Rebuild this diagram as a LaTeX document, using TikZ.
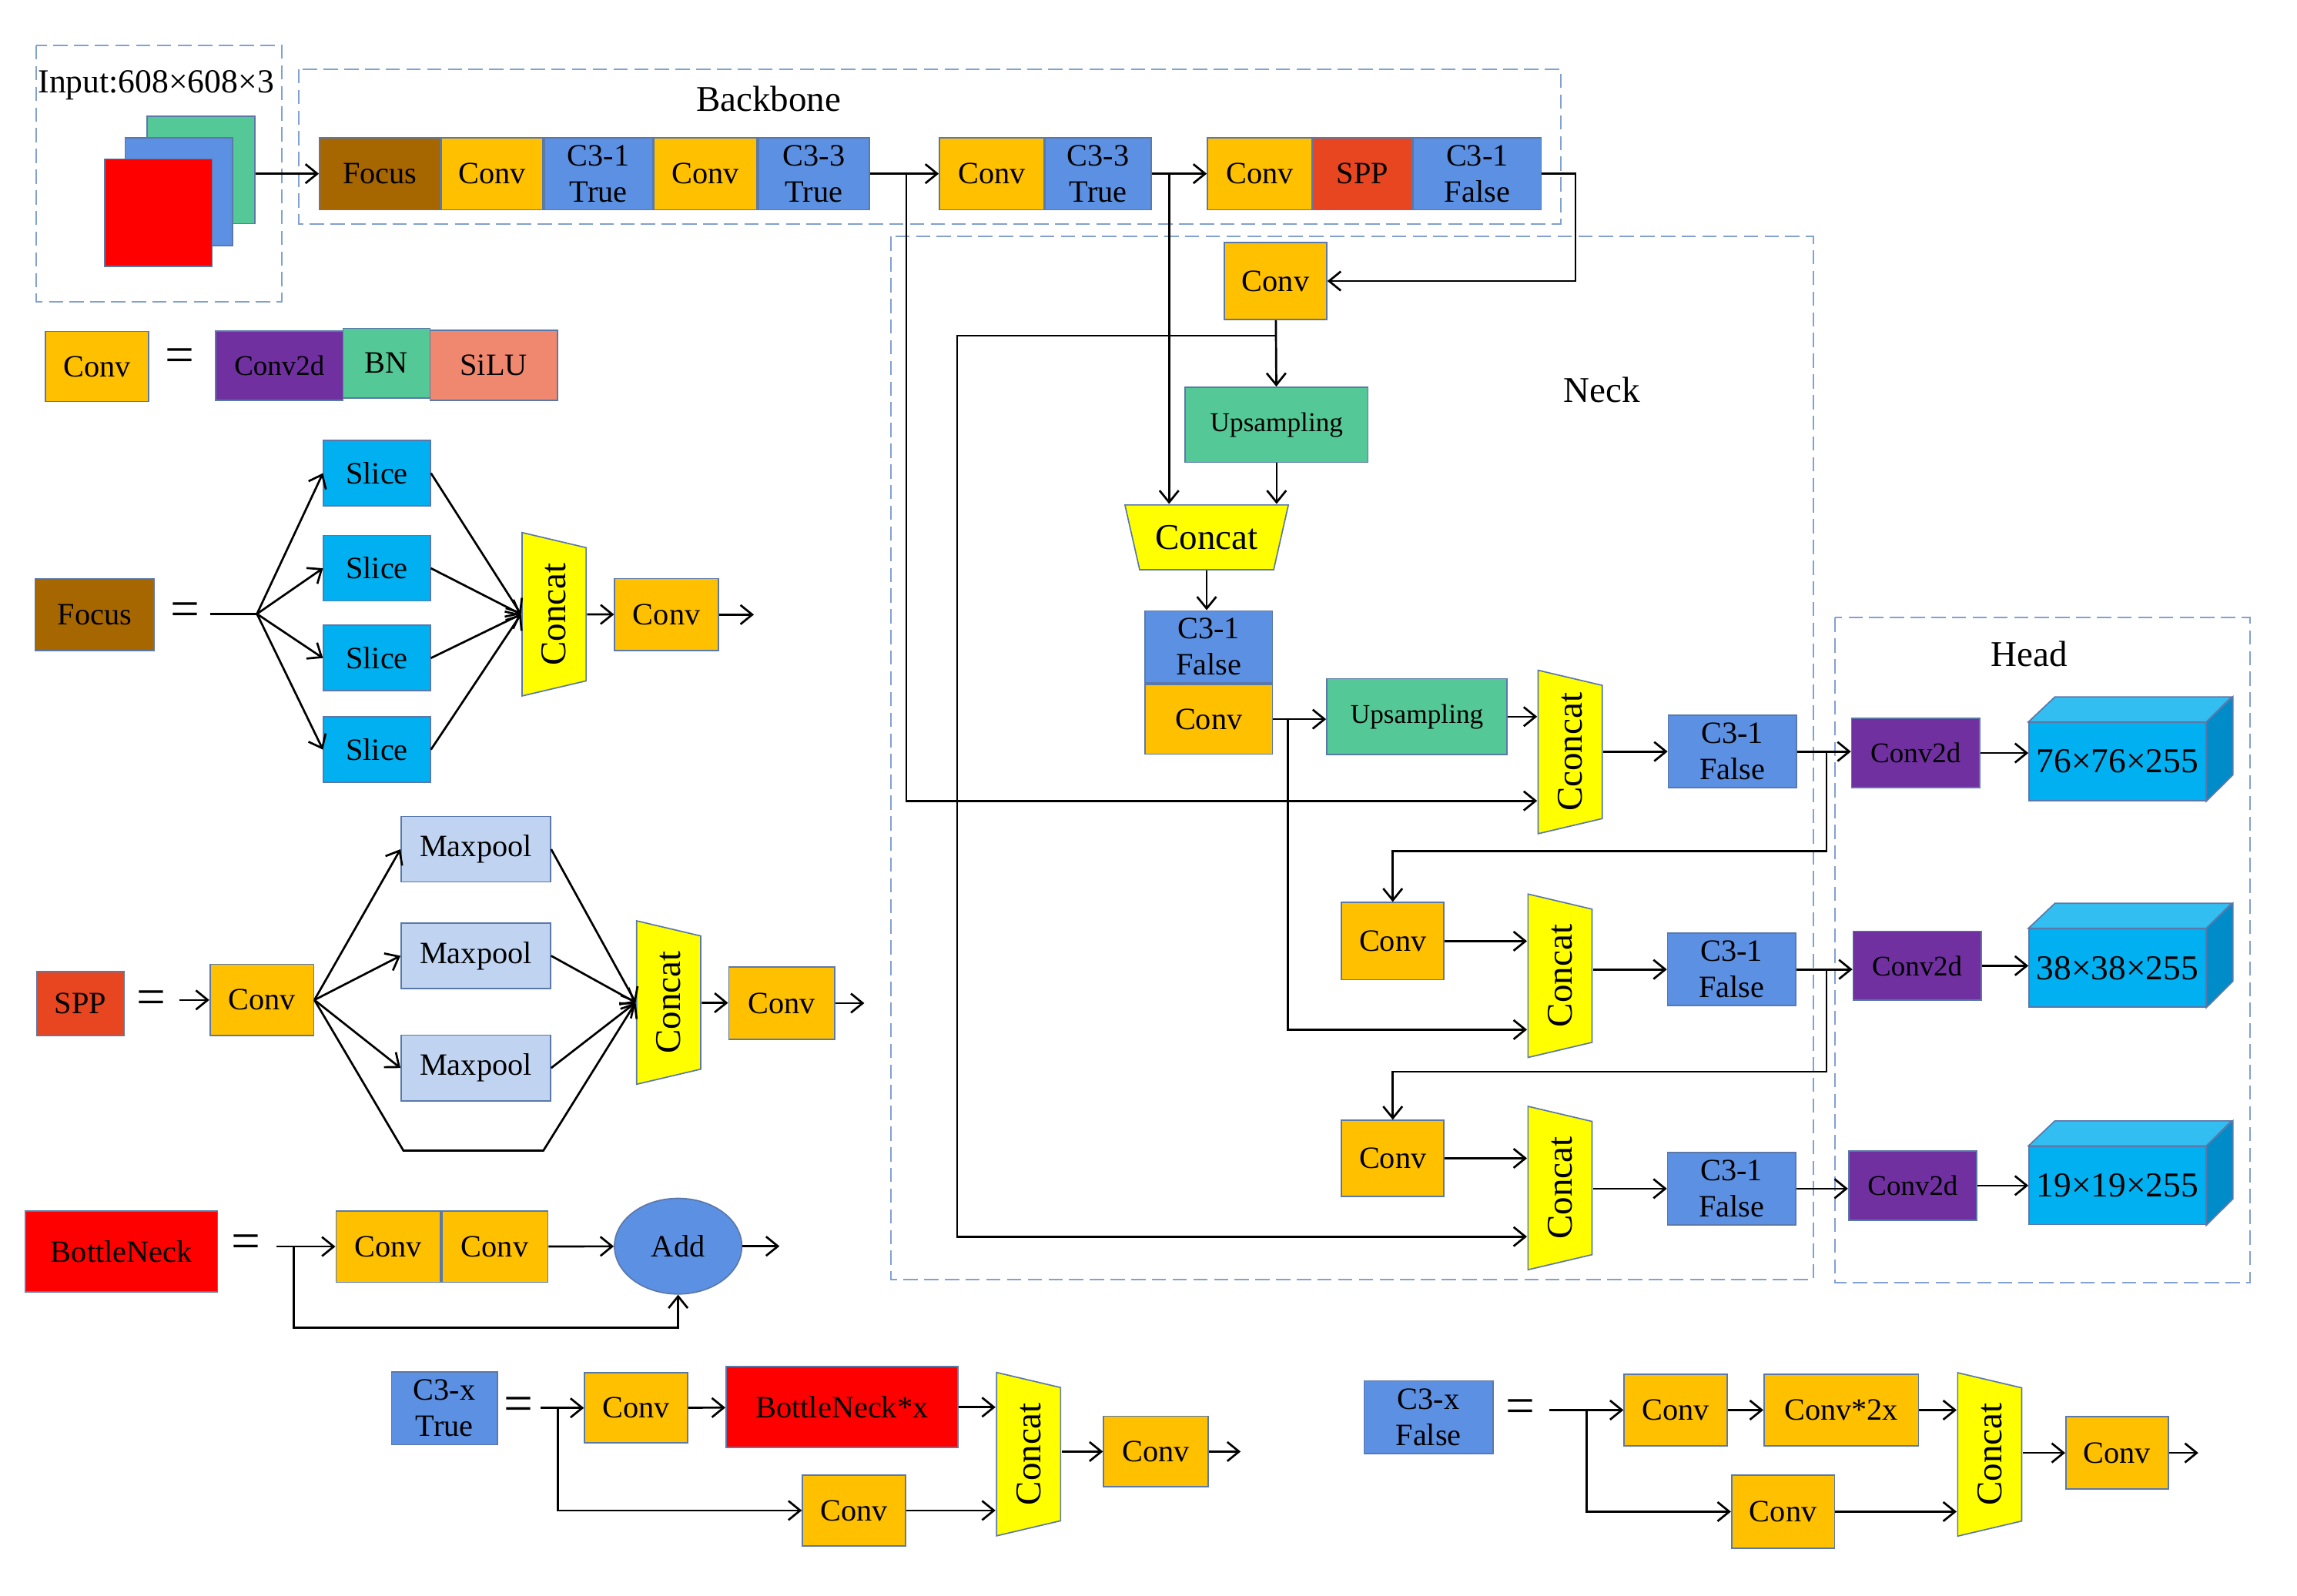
\documentclass[tikz,border=0pt]{standalone}
\usepackage{fontspec}
\setmainfont{Liberation Serif}
\usetikzlibrary{positioning,arrows.meta,shapes.geometric,calc}

\definecolor{convc}{RGB}{255,192,0}
\definecolor{c3c}{RGB}{92,144,226}
\definecolor{focusc}{RGB}{166,102,0}
\definecolor{sppc}{RGB}{232,70,32}
\definecolor{upc}{RGB}{84,200,150}
\definecolor{c2dc}{RGB}{112,48,160}
\definecolor{siluc}{RGB}{240,136,112}
\definecolor{slicec}{RGB}{0,176,240}
\definecolor{poolc}{RGB}{192,212,242}
\definecolor{catc}{RGB}{255,255,0}
\definecolor{bnkc}{RGB}{255,0,0}
\definecolor{edgec}{RGB}{90,120,170}
\definecolor{dashc}{RGB}{130,160,210}
\definecolor{cubetop}{RGB}{50,190,240}
\definecolor{cubeside}{RGB}{0,140,200}

\begin{document}
\begin{tikzpicture}[x=0.02cm, y=-0.02cm, line width=0.8pt,
      >={Straight Barb[length=1.6mm,width=2.6mm]},
      cbox/.style={draw=edgec, line width=0.5pt, inner sep=0pt, align=center, font=\fontsize{12}{14}\selectfont},
      convbox/.style={cbox, fill=convc, minimum width=1.4cm, minimum height=0.96cm},
      c3box/.style={cbox, fill=c3c, minimum width=1.74cm, minimum height=0.98cm},
      upbox/.style={cbox, fill=upc, minimum width=2.48cm, minimum height=1.02cm, font=\fontsize{10.5}{12}\selectfont},
      c2dbox/.style={cbox, fill=c2dc, minimum width=1.74cm, minimum height=0.94cm, font=\fontsize{11}{12}\selectfont},
      slicebox/.style={cbox, fill=slicec, minimum width=1.45cm, minimum height=0.89cm},
      poolbox/.style={cbox, fill=poolc, minimum width=2.03cm, minimum height=0.89cm},
      eqsign/.style={inner sep=0pt, font=\fontsize{20}{20}\selectfont},
      dashbox/.style={draw=dashc, line width=0.6pt, dash pattern=on 5.5pt off 2.5pt},
      catbox/.style={fill=catc, draw=edgec, line width=0.5pt},
      grouplabel/.style={font=\fontsize{14}{16}\selectfont}]
      \useasboundingbox (0,0) rectangle (1560,1083.7);

      %输入
      \draw[dashbox] (24.7,30.8) rectangle (191.4,205);
      \node (inTxt) at (106,58) [font=\fontsize{13}{14}\selectfont] {Input:608×608×3};
      \node (inG) at (136.5,115.5) [cbox, fill=upc, minimum size=1.46cm] {};
      \node (inB) at (121.5,130.2) [cbox, fill=c3c, minimum size=1.46cm] {};
      \node (inR) at (107.5,144.5) [cbox, fill=bnkc, minimum size=1.46cm] {};

      %主干
      \draw[dashbox] (203,47) rectangle (1060,152);
      \node (bbTxt) at (522,67) [grouplabel] {Backbone};
      \node (focusT) at (258,118) [cbox, fill=focusc, minimum width=1.64cm, minimum height=0.98cm] {Focus};
      \node (convT1) [convbox, right=0pt of focusT, minimum width=1.38cm, minimum height=0.98cm] {Conv};
      \node (c31T) [c3box, right=0pt of convT1, minimum width=1.47cm] {C3-1\\True};
      \node (convT2) [convbox, right=0pt of c31T, minimum width=1.40cm, minimum height=0.98cm] {Conv};
      \node (c33T) [c3box, right=0pt of convT2, minimum width=1.51cm] {C3-3\\True};
      \node (convT3) at (673.5,118) [convbox, minimum width=1.42cm, minimum height=0.98cm] {Conv};
      \node (c33T2) [c3box, right=0pt of convT3, minimum width=1.44cm] {C3-3\\True};
      \node (convT4) at (855.5,118) [convbox, minimum width=1.42cm, minimum height=0.98cm] {Conv};
      \node (sppT) [cbox, fill=sppc, right=0pt of convT4, minimum width=1.34cm, minimum height=0.98cm] {SPP};
      \node (c31F) [c3box, right=0pt of sppT] {C3-1\\False};

      %颈部
      \draw[dashbox] (605,160.8) rectangle (1231.4,869);
      \node (neckTxt) at (1088,265) [grouplabel] {Neck};
      \node (convN1) at (866.3,190.9) [convbox, minimum width=1.39cm, minimum height=1.05cm] {Conv};
      \node (upN1) at (867,288.5) [upbox] {Upsampling};
      \filldraw[catbox] (764,343) -- (875,343) -- (865,387) -- (774,387) -- cycle;
      \node (catN) at (819.5,365) [minimum width=2.22cm, minimum height=0.88cm, inner sep=0pt, font=\fontsize{14}{16}\selectfont] {Concat};
      \node (c31N) at (820.9,439.4) [c3box, minimum width=1.73cm] {C3-1\\False};
      \node (convN2) [convbox, below=0pt of c31N, minimum width=1.73cm, minimum height=0.95cm] {Conv};
      \node (upN2) at (962.3,486.8) [upbox, minimum width=2.45cm, minimum height=1.03cm] {Upsampling};
      \node (convR2) at (945.9,639.3) [convbox, minimum width=1.39cm, minimum height=1.05cm] {Conv};
      \node (convR3) at (945.9,786.8) [convbox, minimum width=1.39cm, minimum height=1.03cm] {Conv};
      \node (c31R1) at (1176.5,510.5) [c3box] {C3-1\\False};
      \node (c31R2) at (1176,658.5) [c3box] {C3-1\\False};
      \node (c31R3) at (1176,807.4) [c3box] {C3-1\\False};

      %头部
      \draw[dashbox] (1246,419.6) rectangle (1528,871);
      \node (headTxt) at (1378,444) [grouplabel] {Head};
      \node (conv2dH1) at (1301,511.5) [c2dbox] {Conv2d};
      \node (conv2dH2) at (1302,656) [c2dbox] {Conv2d};
      \node (conv2dH3) at (1299,805.3) [c2dbox] {Conv2d};
      \foreach \n/\y/\t in {cube1/517.3/76×76×255, cube2/657.5/38×38×255, cube3/805.3/19×19×255} {
      	\node (\n) at (1438,\y) [cbox, fill=slicec, minimum width=2.4cm, minimum height=1.06cm, font=\fontsize{13.5}{14}\selectfont] {\t};
      	\filldraw[fill=cubetop, draw=edgec, line width=0.5pt] (\n.north west) -- ++(18,-17) -- ++(120,0) -- (\n.north east) -- cycle;
      	\filldraw[fill=cubeside, draw=edgec, line width=0.5pt] (\n.north east) -- ++(18,-17) -- ++(0,53) -- (\n.south east) -- cycle;
      }

      %Conv
      \node (convL) at (66,248.9) [convbox, minimum width=1.40cm, minimum height=0.95cm] {Conv};
      \node (eqA) at (122,244.7) [eqsign] {=};
      \node (c2dL) at (189.75,248.5) [c2dbox, minimum width=1.73cm] {Conv2d};
      \node (bnL) at (262.5,246.75) [cbox, fill=upc, minimum width=1.18cm, minimum height=0.95cm] {BN};
      \node (siluL) at (335.3,248.25) [cbox, fill=siluc, minimum width=1.73cm, minimum height=0.95cm] {SiLU};

      %Focus
      \node (focusL) at (64.25,417.5) [cbox, fill=focusc, minimum width=1.62cm, minimum height=0.98cm] {Focus};
      \node (eqB) at (125.5,417.6) [eqsign] {=};
      \coordinate (fIn) at (143,417);
      \coordinate (fSp) at (174.5,417);
      \foreach \i/\y in {1/321.4,2/386,3/447,4/509.2} {
      	\node (slice\i) at (256,\y) [slicebox] {Slice};
      }
      \node (convF) at (452.7,417.5) [convbox, minimum width=1.41cm, minimum height=0.98cm] {Conv};
      \coordinate (fOut) at (512,417.5);

      %SPP
      \node (sppL) at (54.7,681.75) [cbox, fill=sppc, minimum width=1.19cm, minimum height=0.87cm] {SPP};
      \node (eqC) at (102.5,680.8) [eqsign] {=};
      \coordinate (sIn) at (122,679.25);
      \node (convS) at (177.85,679.25) [convbox, minimum width=1.41cm, minimum height=0.97cm] {Conv};
      \foreach \i/\y in {1/576.85,2/649.25,3/725.45} {
      	\node (pool\i) at (323.15,\y) [poolbox] {Maxpool};
      }
      \coordinate (sB1) at (274,781.6);
      \coordinate (sB2) at (369,781.6);
      \node (convS2) at (530.9,681.4) [convbox, minimum width=1.44cm, minimum height=0.98cm] {Conv};
      \coordinate (sOut) at (587,681.4);

      %BottleNeck
      \node (bnk) at (82.5,850) [cbox, fill=bnkc, minimum width=2.61cm, minimum height=1.10cm] {BottleNeck};
      \node (eqD) at (167,847) [eqsign] {=};
      \coordinate (bIn) at (188,846.75);
      \coordinate (bSp) at (199.5,846.75);
      \coordinate (bLo) at (199.5,901.7);
      \node (convB1) at (263.7,846.75) [convbox, minimum width=1.42cm, minimum height=0.97cm] {Conv};
      \node (convB2) [convbox, right=0pt of convB1, minimum width=1.44cm, minimum height=0.97cm] {Conv};
      \node (addB) at (460.55,846.5) [cbox, ellipse, fill=c3c, minimum width=1.73cm, minimum height=1.30cm] {Add};
      \coordinate (bOut) at (529.4,846.5);

      %C3 True
      \node (c3xT) at (301.85,956.65) [c3box, minimum width=1.44cm, minimum height=0.99cm] {C3-x\\True};
      \node (eqE) at (352,957) [eqsign] {=};
      \coordinate (cIn) at (367,956.35);
      \coordinate (cSp) at (379,956.35);
      \coordinate (cLo) at (379,1026);
      \node (convC1) at (432,956.35) [convbox, minimum width=1.40cm, minimum height=0.95cm] {Conv};
      \node (bnx) at (571.8,955.85) [cbox, fill=bnkc, minimum width=3.15cm, minimum height=1.10cm] {BottleNeck*x};
      \node (convC2) at (580,1026) [convbox, minimum width=1.40cm, minimum height=0.96cm] {Conv};
      \node (convC3) at (785,986) [convbox, minimum width=1.42cm, minimum height=0.96cm] {Conv};
      \coordinate (cOut) at (842.6,986);

      %C3 False
      \node (c3xF) at (970.2,962.75) [c3box, minimum width=1.75cm, minimum height=0.99cm] {C3-x\\False};
      \node (eqF) at (1032.5,958.9) [eqsign] {=};
      \coordinate (dIn) at (1052,957.8);
      \coordinate (dSp) at (1077.7,957.8);
      \coordinate (dLo) at (1077.7,1026.8);
      \node (convD1) at (1138,957.8) [convbox, minimum width=1.40cm, minimum height=0.97cm] {Conv};
      \node (conv2x) at (1250.5,957.8) [convbox, minimum width=2.10cm, minimum height=0.97cm] {Conv*2x};
      \node (convD2) at (1211,1026.8) [convbox, minimum width=1.40cm, minimum height=0.99cm] {Conv};
      \node (convD3) at (1437.75,986.9) [convbox, minimum width=1.39cm, minimum height=0.98cm] {Conv};
      \coordinate (dOut) at (1493,986.9);

      %Concat
      \foreach \n/\x/\y/\t in {catF/376.3/417.25/Concat, catS/454.15/681/Concat, cc1/1066.4/510.8/Cconcat,
      	cat2/1059.5/662.8/Concat, cat3/1059.5/807/Concat, catC/698.55/987.75/Concat, catD/1351.3/987.95/Concat} {
      	\filldraw[catbox] (\x-21.75,\y-55.5) -- (\x+21.75,\y-45.25) -- (\x+21.75,\y+45.25) -- (\x-21.75,\y+55.5) -- cycle;
      	\node (\n) at (\x,\y) [minimum width=0.87cm, minimum height=2.22cm, inner sep=0pt] {};
      	\node[rotate=90, font=\fontsize{14}{16}\selectfont] at (\n) {\t};
      }

      %连线
      \draw[->] (inG.east |- focusT.west) -- (focusT.west);
      \coordinate (jA) at (615.6,118);
      \coordinate (jAb) at (615.6,544);
      \draw[->] (c33T) -- (convT3);
      \draw[->] (jA) -- (jAb) -- (jAb -| cc1.west);
      \coordinate (jB) at (794,118);
      \draw[->] (c33T2) -- (convT4);
      \draw[->] (jB) -- (jB |- catN.north);
      \coordinate (tR) at (1070,118);
      \draw[->] (c31F.east) -- (tR) |- (convN1.east);
      \coordinate (jC) at (866.3,228);
      \coordinate (jCl) at (650,228);
      \coordinate (jCb) at (650,840);
      \draw[->] (convN1) -- (upN1);
      \draw[->] (jC) -- (jCl) -- (jCb) -- (jCb -| cat3.west);
      \draw[->] (upN1.south) -- (upN1.south |- catN.north);
      \draw[->] (catN.south) -- (catN.south |- c31N.north);
      \draw[->] (convN2.east) -- (convN2.east -| upN2.west);
      \coordinate (jD) at (874.6,487.75);
      \coordinate (jDb) at (874.6,699.4);
      \draw[->] (jD) -- (jDb) -- (jDb -| cat2.west);
      \draw[->] (upN2.east) -- (upN2.east -| cc1.west);
      \draw[->] (cc1.east |- c31R1) -- (c31R1);
      \draw[->] (c31R1) -- (c31R1 -| conv2dH1.west);
      \coordinate (jE) at (1240.4,510.5);
      \coordinate (jEb) at (1240.4,578);
      \draw[->] (jE) -- (jEb) -| (convR2.north);
      \draw[->] (convR2) -- (convR2 -| cat2.west);
      \draw[->] (cat2.east |- c31R2) -- (c31R2);
      \draw[->] (c31R2) -- (c31R2 -| conv2dH2.west);
      \coordinate (jF) at (1240.4,658.5);
      \coordinate (jFb) at (1240.4,728);
      \draw[->] (jF) -- (jFb) -| (convR3.north);
      \draw[->] (convR3) -- (convR3 -| cat3.west);
      \draw[->] (cat3.east |- c31R3) -- (c31R3);
      \draw[->] (c31R3) -- (c31R3 -| conv2dH3.west);
      \foreach \i in {1,2,3} {
      	\draw[->] (conv2dH\i) -- (conv2dH\i -| cube\i.west);
      }

      \draw (fIn) -- (fSp);
      \foreach \i in {1,...,4} {
      	\draw[->] (fSp) -- (slice\i.west);
      	\draw[->] (slice\i.east) -- (catF.west);
      }
      \draw[->] (catF) -- (convF);
      \draw[->] (convF) -- (fOut);

      \draw[->] (sIn) -- (convS);
      \foreach \i in {1,2,3} {
      	\draw[->] (convS.east) -- (pool\i.west);
      	\draw[->] (pool\i.east) -- (catS.west);
      }
      \draw[->] (convS.east) -- (sB1) -- (sB2) -- (catS.west);
      \draw[->] (catS) -- (convS2);
      \draw[->] (convS2) -- (sOut);

      \draw[->] (bIn) -- (convB1);
      \draw[->] (bSp) -- (bLo) -| (addB.south);
      \draw[->] (convB2) -- (addB);
      \draw[->] (addB) -- (bOut);

      \draw[->] (cIn) -- (convC1);
      \draw[->] (convC1) -- (bnx);
      \draw[->] (bnx) -- (bnx -| catC.west);
      \draw[->] (cSp) -- (cLo) -- (convC2);
      \draw[->] (convC2) -- (convC2 -| catC.west);
      \draw[->] (catC.east |- convC3) -- (convC3);
      \draw[->] (convC3) -- (cOut);

      \draw[->] (dIn) -- (convD1);
      \draw[->] (convD1) -- (conv2x);
      \draw[->] (conv2x) -- (conv2x -| catD.west);
      \draw[->] (dSp) -- (dLo) -- (convD2);
      \draw[->] (convD2) -- (convD2 -| catD.west);
      \draw[->] (catD.east |- convD3) -- (convD3);
      \draw[->] (convD3) -- (dOut);

\end{tikzpicture}
\end{document}
